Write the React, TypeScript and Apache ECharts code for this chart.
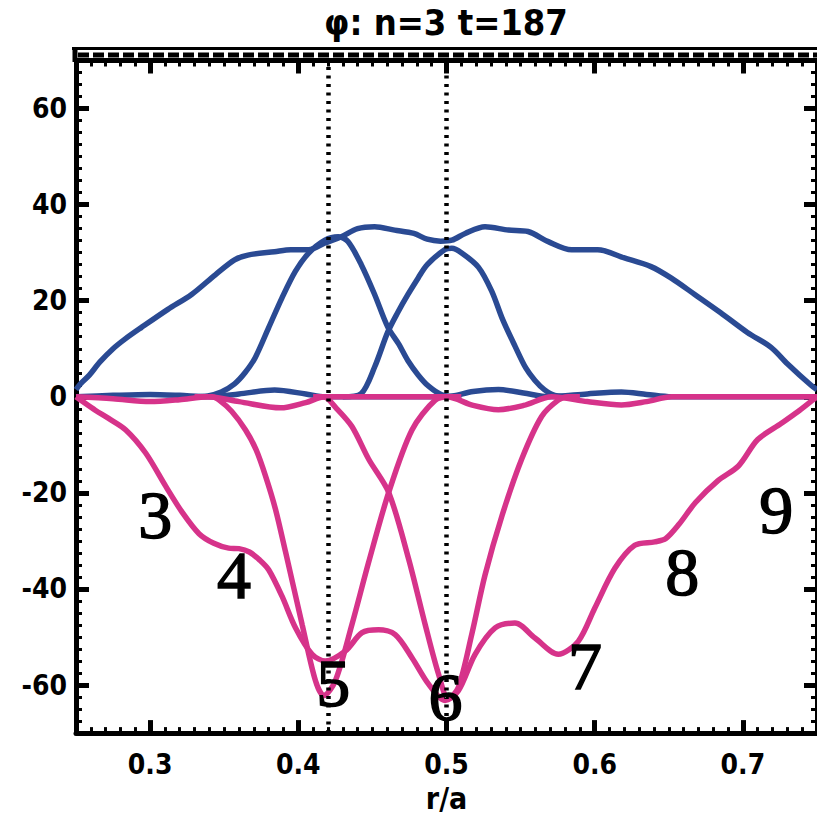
import React, { useEffect, useRef } from "react";
import * as echarts from "echarts";

const titleText = "φ: n=3 t=187";
const xAxisName = "r/a";
const xRange = [0.25, 0.75];
const yRange = [-70, 70];
const dottedLines = [0.4155, 0.5025];

const blueTotal = [
  [0.25, 1.5], [0.253, 2.7], [0.259, 4.5], [0.266, 7.2], [0.275, 10], [0.283, 12], [0.294, 14.4],
  [0.312, 18.2], [0.328, 21.3], [0.344, 25.4], [0.357, 28.5], [0.366, 29.5], [0.384, 30.2],
  [0.395, 30.6], [0.407, 30.6], [0.418, 32], [0.429, 33.3], [0.44, 35], [0.4515, 35.4],
  [0.465, 34.7], [0.478, 34], [0.487, 32.8], [0.496, 32.4], [0.5036, 32.6], [0.5126, 34],
  [0.526, 35.4], [0.5418, 34.7], [0.555, 34.4], [0.5687, 32.3], [0.5844, 30.6], [0.602, 30.6],
  [0.62, 28.9], [0.638, 27.1], [0.6517, 24.7], [0.6675, 21.3], [0.685, 17.5], [0.703, 13.4],
  [0.719, 10.3], [0.73, 6.9], [0.746, 2.4], [0.75, 1.5],
];
const blueM5 = [
  [0.33, 0], [0.339, 0.2], [0.348, 1], [0.357, 2.7], [0.364, 5], [0.371, 8.2], [0.38, 14.4],
  [0.389, 20.6], [0.398, 26.1], [0.407, 29.9], [0.418, 32.6], [0.427, 33.3], [0.4335, 32.3],
  [0.4425, 27.5], [0.4515, 21.3], [0.4604, 14.5], [0.4677, 11], [0.474, 7.5], [0.481, 4.5],
  [0.4879, 2.2], [0.4969, 0.4], [0.51, 0],
];
const blueM6 = [
  [0.43, 0], [0.4425, 0.7], [0.4515, 6.2], [0.4604, 13.5], [0.467, 17.5], [0.474, 21.3],
  [0.481, 24.8], [0.487, 27.5], [0.4987, 30.6], [0.5036, 30.9], [0.51, 30], [0.5215, 27],
  [0.5305, 22], [0.538, 16], [0.5463, 10.5], [0.5535, 6], [0.5597, 3.4], [0.566, 1.5],
  [0.573, 0.3], [0.585, 0],
];
const blueSmall = [
  [0.25, 0], [0.275, 0.3], [0.3, 0.5], [0.32, 0.3], [0.339, 0], [0.36, 0.6], [0.384, 1.4],
  [0.405, 0.6], [0.418, 0], [0.44, 0], [0.47, 0], [0.5, 0], [0.518, 1.1], [0.535, 1.5],
  [0.552, 0.8], [0.569, 0], [0.595, 0.6], [0.618, 1], [0.635, 0.5], [0.652, 0], [0.75, 0],
];
const pinkTotal = [
  [0.25, 0], [0.2545, -1], [0.263, -2.8], [0.272, -4.5], [0.2836, -6.9], [0.297, -11.7],
  [0.3105, -18.6], [0.3218, -24.1], [0.333, -28.5], [0.343, -30.5], [0.353, -31.5],
  [0.36, -31.6], [0.367, -32.3], [0.374, -34], [0.38, -36], [0.389, -41.5], [0.398, -48],
  [0.4093, -53.6], [0.4183, -55], [0.4318, -52.9], [0.443, -49.1], [0.4542, -48.5],
  [0.4654, -49.5], [0.4767, -54.3], [0.4879, -59.8], [0.499, -63.2], [0.508, -61.2],
  [0.5193, -53.6], [0.5328, -48.1], [0.5462, -47.1], [0.5597, -50.2], [0.5754, -53.6],
  [0.5889, -50.9], [0.6, -44], [0.6136, -35.7], [0.627, -30.9], [0.6405, -30.2],
  [0.648, -29.5], [0.657, -26.5], [0.668, -22], [0.683, -17.5], [0.697, -14.4], [0.71, -8.9],
  [0.726, -5.5], [0.737, -3.1], [0.747, -0.7], [0.75, 0],
];
const pinkM5 = [
  [0.33, 0], [0.342, 0], [0.3466, -0.7], [0.355, -3], [0.3644, -6.9], [0.3715, -11],
  [0.3779, -16.5], [0.3846, -23.4], [0.3914, -32.3], [0.4026, -47.4], [0.4116, -59.1],
  [0.4172, -62.2], [0.425, -59.1], [0.4362, -47.4], [0.4475, -34.4], [0.461, -19.9],
  [0.4767, -6.9], [0.4924, -0.7], [0.502, 0], [0.51, 0],
];
const pinkM6 = [
  [0.41, 0], [0.417, 0], [0.426, -2.5], [0.4362, -6.2], [0.4475, -13], [0.461, -19.9],
  [0.4744, -33.7], [0.4856, -47.4], [0.4946, -57.7], [0.5013, -62.9], [0.508, -60.5],
  [0.517, -49.5], [0.526, -37.1], [0.5375, -24.7], [0.5507, -13], [0.5642, -4.1],
  [0.5754, -0.7], [0.582, 0], [0.59, 0],
];
const pinkSmall = [
  [0.25, 0], [0.275, -0.4], [0.3, -1], [0.32, -0.6], [0.339, 0], [0.36, -1], [0.388, -2.3],
  [0.405, -1.2], [0.418, 0], [0.44, 0], [0.47, 0], [0.5, 0], [0.518, -1.8], [0.535, -2.7],
  [0.552, -1.8], [0.571, 0], [0.595, -1], [0.618, -1.7], [0.635, -1], [0.652, 0], [0.75, 0],
];
const harmonicLabels = [
  [0.3035, -24.5, "3"], [0.3566, -37, "4"], [0.4235, -59.5, "5"], [0.4993, -62.5, "6"],
  [0.5935, -56, "7"], [0.659, -36.5, "8"], [0.7225, -23.5, "9"],
];

const BLUE = "#2A4A93";
const PINK = "#D6338A";
const AXIS_FONT = "'DejaVu Sans Condensed', 'Liberation Sans Narrow', 'DejaVu Sans', sans-serif";

function lineSeries(data: number[][], color: string) {
  return {
    type: "line",
    data,
    smooth: 0.3,
    symbol: "none",
    lineStyle: { color, width: 5.5 },
    xAxisIndex: 0,
    yAxisIndex: 0,
  };
}

export default function App() {
  const ref = useRef<HTMLDivElement>(null);
  useEffect(() => {
    if (!ref.current) return;
    const chart = echarts.init(ref.current, null, { renderer: "svg" });
    const tick = { show: true, inside: true, length: 13, lineStyle: { color: "#000", width: 5 } };
    const minor = { show: true, splitNumber: 10, length: 6, lineStyle: { color: "#000", width: 3 } };
    const axLine = { show: true, onZero: false, lineStyle: { color: "#000", width: 5 } };
    const xBase = {
      type: "value",
      min: xRange[0],
      max: xRange[1],
      splitNumber: 5,
      axisLine: axLine,
      axisTick: tick,
      minorTick: minor,
      splitLine: { show: false },
    };
    const yBase = {
      type: "value",
      min: yRange[0],
      max: yRange[1],
      splitNumber: 7,
      axisLine: axLine,
      axisTick: tick,
      minorTick: { ...minor, splitNumber: 8 },
      splitLine: { show: false },
    };
    chart.setOption({
      animation: false,
      backgroundColor: "#fff",
      grid: { left: 76, top: 60.5, width: 743.5, height: 678.5, containLabel: false },
      xAxis: [
        {
          ...xBase,
          position: "bottom",
          name: xAxisName,
          nameLocation: "middle",
          nameGap: 45,
          nameTextStyle: { fontFamily: AXIS_FONT, fontWeight: "bold", fontSize: 30, color: "#000" },
          axisLabel: {
            show: true,
            showMinLabel: false,
            showMaxLabel: false,
            margin: 17,
            formatter: (v: number) => v.toFixed(1),
            fontFamily: AXIS_FONT,
            fontWeight: "bold",
            fontSize: 28,
            color: "#000",
          },
        },
        { ...xBase, position: "top", axisLabel: { show: false } },
      ],
      yAxis: [
        {
          ...yBase,
          position: "left",
          axisLabel: {
            show: true,
            showMinLabel: false,
            showMaxLabel: false,
            margin: 9,
            formatter: (v: number) => String(v),
            fontFamily: AXIS_FONT,
            fontWeight: "bold",
            fontSize: 28,
            color: "#000",
          },
        },
        { ...yBase, position: "right", axisLabel: { show: false } },
      ],
      graphic: [
        { type: "line", shape: { x1: 72, y1: 48.5, x2: 817, y2: 48.5 }, style: { stroke: "#000", lineWidth: 3 } },
        { type: "line", shape: { x1: 78, y1: 55, x2: 817, y2: 55 }, style: { stroke: "#000", lineWidth: 5, lineDash: [11, 4] } },
        { type: "line", shape: { x1: 75, y1: 47, x2: 75, y2: 62 }, style: { stroke: "#000", lineWidth: 5 } },
        {
          type: "text",
          x: 446,
          y: 22,
          style: {
            text: titleText,
            align: "center",
            verticalAlign: "middle",
            font: "bold 36px " + AXIS_FONT,
            fill: "#000",
          },
        },
      ],
      series: [
        {
          ...lineSeries(blueSmall, BLUE),
          markLine: {
            silent: true,
            symbol: "none",
            label: { show: false },
            lineStyle: { color: "#000", width: 4.5, type: [3, 5.5] },
            data: dottedLines.map((x) => ({ xAxis: x })),
          },
        },
        lineSeries(blueTotal, BLUE),
        lineSeries(blueM5, BLUE),
        lineSeries(blueM6, BLUE),
        lineSeries(pinkSmall, PINK),
        lineSeries(pinkTotal, PINK),
        lineSeries(pinkM5, PINK),
        lineSeries(pinkM6, PINK),
        {
          type: "scatter",
          data: harmonicLabels,
          symbolSize: 1,
          itemStyle: { color: "#fff", opacity: 1 },
          z: 10,
          label: {
            show: true,
            position: "inside",
            opacity: 1,
            formatter: (p: any) => p.data[2],
            fontFamily: "'Liberation Serif', 'DejaVu Serif', serif",
            fontSize: 68,
            color: "#000",
            textBorderColor: "#000",
            textBorderWidth: 1.5,
          },
        },
      ],
    });
    return () => chart.dispose();
  }, []);
  return (
    <div
      ref={ref}
      style={{ position: "fixed", left: 0, top: 0, width: 817, height: 818, background: "#fff" }}
    />
  );
}
